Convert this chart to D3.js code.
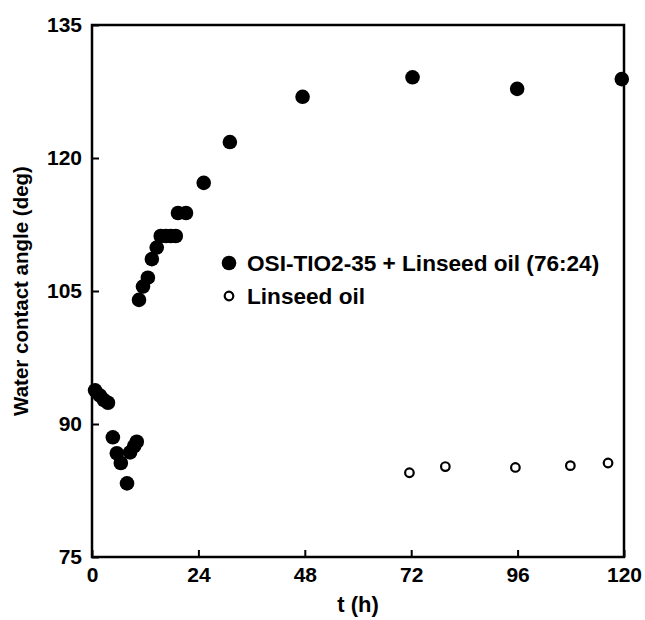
<!DOCTYPE html>
<html>
<head>
<meta charset="utf-8">
<script src="https://cdn.jsdelivr.net/npm/d3@7"></script>
<style>
  body { margin: 0; background: #fff; }
  text { font-family: "Liberation Sans", Arial, sans-serif; font-weight: bold; }
</style>
</head>
<body>
<svg id="chart" width="645" height="620"></svg>
<script>
// OSI-TiO2-35 + Linseed oil (76:24)
let mixT   = [0.7, 1.8, 2.7, 3.6, 4.7, 5.6, 6.5, 7.9, 8.6, 9.5, 10.1, 10.6, 11.5, 12.6, 13.5, 14.6, 15.5, 16.7, 17.8, 18.9, 19.4, 21.2, 25.2, 31.1, 47.5, 72.3, 95.9, 119.5]
let mixVal = [93.8, 93.2, 92.7, 92.4, 88.5, 86.7, 85.6, 83.3, 86.8, 87.5, 88.0, 104.0, 105.5, 106.5, 108.6, 109.9, 111.2, 111.2, 111.2, 111.2, 113.8, 113.8, 117.2, 121.8, 126.9, 129.1, 127.8, 128.9]
// Linseed oil alone
let oilT   = [71.6, 79.7, 95.5, 107.9, 116.4]
let oilVal = [84.5, 85.2, 85.1, 85.3, 85.6]

let xTicks = [0, 24, 48, 72, 96, 120]
let yTicks = [75, 90, 105, 120, 135]
let legendLabels = ["OSI-TIO2-35 + Linseed oil (76:24)", "Linseed oil"]

let svg = d3.select("#chart")
let mLeft = 92, mRight = 624, mTop = 25, mBottom = 557

let x = d3.scaleLinear().domain([0, 120]).range([mLeft, mRight])
let y = d3.scaleLinear().domain([75, 135]).range([mBottom, mTop])

let g = svg.append("g")

// ticks (inward)
g.append("g")
	.attr("transform", "translate(0," + mBottom + ")")
	.call(d3.axisBottom(x).tickValues(xTicks).tickSizeInner(-7).tickSizeOuter(0).tickPadding(10))
	.call(a => a.select(".domain").remove())
	.call(a => a.selectAll("line").attr("stroke-width", 2))
	.call(a => a.selectAll("text").attr("font-size", 21).attr("fill", "#000"))

g.append("g")
	.attr("transform", "translate(" + mLeft + ",0)")
	.call(d3.axisLeft(y).tickValues(yTicks).tickSizeInner(-7).tickSizeOuter(0).tickPadding(10))
	.call(a => a.select(".domain").remove())
	.call(a => a.selectAll("line").attr("stroke-width", 2))
	.call(a => a.selectAll("text").attr("font-size", 21).attr("fill", "#000"))

// frame
g.append("rect")
	.attr("x", mLeft).attr("y", mTop)
	.attr("width", mRight - mLeft).attr("height", mBottom - mTop)
	.attr("fill", "none")
	.attr("stroke", "#000")
	.attr("stroke-width", 2.5)

// data
g.selectAll(".mix")
	.data(mixT.map((t, i) => [t, mixVal[i]]))
	.enter().append("circle")
	.attr("class", "mix")
	.attr("cx", d => x(d[0]))
	.attr("cy", d => y(d[1]))
	.attr("r", 7.3)
	.attr("fill", "#000")

g.selectAll(".oil")
	.data(oilT.map((t, i) => [t, oilVal[i]]))
	.enter().append("circle")
	.attr("class", "oil")
	.attr("cx", d => x(d[0]))
	.attr("cy", d => y(d[1]))
	.attr("r", 4.3)
	.attr("fill", "#fff")
	.attr("stroke", "#000")
	.attr("stroke-width", 2.2)

// legend
let leg = g.append("g").attr("transform", "translate(229,263)")
leg.append("circle").attr("cx", 0).attr("cy", 0).attr("r", 7.3).attr("fill", "#000")
leg.append("circle").attr("cx", 0).attr("cy", 33).attr("r", 4.3)
	.attr("fill", "#fff").attr("stroke", "#000").attr("stroke-width", 2.2)
leg.selectAll(".lt")
	.data(legendLabels)
	.enter().append("text")
	.attr("x", 18)
	.attr("y", (d, i) => i * 33)
	.attr("dy", "0.35em")
	.attr("font-size", 22.6)
	.text(d => d)

// axis titles
svg.append("text")
	.attr("x", (mLeft + mRight) / 2)
	.attr("y", 612)
	.attr("text-anchor", "middle")
	.attr("font-size", 22)
	.text("t (h)")

svg.append("text")
	.attr("transform", "translate(28," + ((mTop + mBottom) / 2) + ") rotate(-90)")
	.attr("text-anchor", "middle")
	.attr("font-size", 20.5)
	.text("Water contact angle (deg)")
</script>
</body>
</html>
